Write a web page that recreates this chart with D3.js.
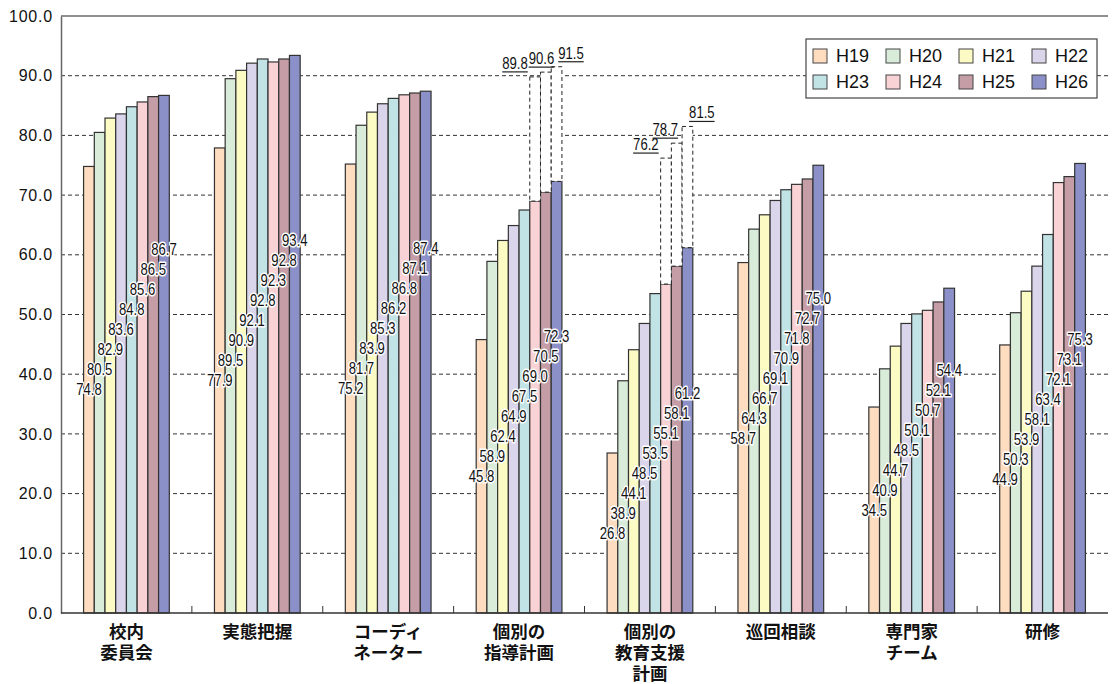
<!DOCTYPE html>
<html lang="ja">
<head>
<meta charset="UTF-8">
<title>bar chart</title>
<script src="https://d3js.org/d3.v7.min.js"></script>
<style>
  body { margin: 0; background: #fff; }
  text { font-family: "Liberation Sans", Arial, sans-serif; }
  .cat { font-family: "Noto Sans CJK JP", sans-serif; font-size: 17.5px; font-weight: 700; }
  .val { font-size: 16px; fill: #111; stroke: #fff; stroke-width: 3px; paint-order: stroke; stroke-linejoin: round; }
</style>
</head>
<body>
<script>
// categories (line breaks as in the picture)
const categories = ["校内\n委員会", "実態把握", "コーディ\nネーター", "個別の\n指導計画",
                    "個別の\n教育支援\n計画", "巡回相談", "専門家\nチーム", "研修"];
const years = ["H19", "H20", "H21", "H22", "H23", "H24", "H25", "H26"];

// values per year, in category order
const H19 = [74.8, 77.9, 75.2, 45.8, 26.8, 58.7, 34.5, 44.9];
const H20 = [80.5, 89.5, 81.7, 58.9, 38.9, 64.3, 40.9, 50.3];
const H21 = [82.9, 90.9, 83.9, 62.4, 44.1, 66.7, 44.7, 53.9];
const H22 = [83.6, 92.1, 85.3, 64.9, 48.5, 69.1, 48.5, 58.1];
const H23 = [84.8, 92.8, 86.2, 67.5, 53.5, 70.9, 50.1, 63.4];
const H24 = [85.6, 92.3, 86.8, 69.0, 55.1, 71.8, 50.7, 72.1];
const H25 = [86.5, 92.8, 87.1, 70.5, 58.1, 72.7, 52.1, 73.1];
const H26 = [86.7, 93.4, 87.4, 72.3, 61.2, 75.0, 54.4, 75.3];
const series = [H19, H20, H21, H22, H23, H24, H25, H26];

// dashed extensions on two categories (H24-H26)
const extraCategories = ["個別の\n指導計画", "個別の\n教育支援\n計画"];
const extraYears = ["H24", "H25", "H26"];
const extraValues = [[89.8, 90.6, 91.5], [76.2, 78.7, 81.5]];

const yTicks = [0, 10, 20, 30, 40, 50, 60, 70, 80, 90, 100];
const colors = ["#fddcbf", "#d9ecd9", "#fdfbc4", "#dad5eb", "#c2e3e6", "#f8d2d5", "#c49da6", "#8c90c8"];

const width = 1115, height = 684;
const plotLeft = 61, plotRight = 1108, plotTop = 16, plotBottom = 613;
const narrow = 0.82; // horizontal squeeze for the numeric labels

const svg = d3.select("body").append("svg")
    .attr("width", width)
    .attr("height", height);

const x0 = d3.scaleBand().domain(categories).range([plotLeft, plotRight]);
const groupW = x0.bandwidth() * 0.655;
const x1 = d3.scaleBand().domain(years).range([0, groupW]);
const gx = c => x0(c) + (x0.bandwidth() - groupW) / 2;
const y = d3.scaleLinear().domain([0, 100]).range([plotBottom, plotTop]);
const color = d3.scaleOrdinal().domain(years).range(colors);

// grid
svg.append("g").selectAll("line")
    .data(yTicks.filter(t => t > 0 && t < 100))
    .join("line")
    .attr("x1", plotLeft).attr("x2", plotRight)
    .attr("y1", d => y(d)).attr("y2", d => y(d))
    .attr("stroke", "#333").attr("stroke-width", 1)
    .attr("stroke-dasharray", "4,3");

svg.append("line")
    .attr("x1", plotLeft).attr("x2", plotRight)
    .attr("y1", y(100)).attr("y2", y(100))
    .attr("stroke", "#222").attr("stroke-width", 1.2);

// bars
const rows = [];
categories.forEach((c, ci) => years.forEach((yr, yi) => rows.push({ c, yr, yi, v: series[yi][ci], first: series[0][ci] })));

svg.append("g").selectAll("rect")
    .data(rows)
    .join("rect")
    .attr("x", d => gx(d.c) + x1(d.yr))
    .attr("y", d => y(d.v))
    .attr("width", x1.bandwidth())
    .attr("height", d => y(0) - y(d.v))
    .attr("fill", d => color(d.yr))
    .attr("stroke", "#333")
    .attr("stroke-width", 1.2);

// dashed extensions
const extras = [];
extraCategories.forEach((c, ci) => extraYears.forEach((yr, k) => {
    const yi = years.indexOf(yr);
    extras.push({ c, yr, k, base: series[yi][categories.indexOf(c)], v: extraValues[ci][k], next: extraValues[ci][k + 1] });
}));

svg.append("g").selectAll("rect")
    .data(extras)
    .join("rect")
    .attr("x", d => gx(d.c) + x1(d.yr))
    .attr("y", d => y(d.v))
    .attr("width", x1.bandwidth())
    .attr("height", d => y(d.base) - y(d.v))
    .attr("fill", "#fff")
    .attr("stroke", "#222")
    .attr("stroke-width", 1)
    .attr("stroke-dasharray", "4,3");

// label x: first to the left of its box, last to the right, middle one
// pushed left when the next box would run through it
const exX = d => {
    const bx = gx(d.c) + x1(d.yr);
    if (d.k === 0) return bx - 2;
    if (d.k === 1) return y(d.next) < y(d.v) - 8 ? bx + x1.bandwidth() - 4 : bx + x1.bandwidth() + 3;
    return bx + 7;
};

const exG = svg.append("g");
const exLabel = exG.selectAll("text")
    .data(extras)
    .join("text")
    .attr("class", "val")
    .style("stroke-width", 0)
    .attr("transform", d => `translate(${exX(d)},${y(d.v) - 8}) scale(${narrow},1)`)
    .attr("text-anchor", d => ["end", "end", "start"][d.k])
    .text(d => d.v.toFixed(1));

exLabel.each(function (d) {
    const b = this.getBBox();
    const x = exX(d);
    exG.append("line")
        .attr("x1", x + b.x * narrow).attr("x2", x + (b.x + b.width) * narrow)
        .attr("y1", y(d.v) - 5).attr("y2", y(d.v) - 5)
        .attr("stroke", "#222").attr("stroke-width", 1.2);
});

// value labels: first one at half the first bar, then stepping up
svg.append("g").selectAll("text")
    .data(rows)
    .join("text")
    .attr("class", "val")
    .attr("transform", d => `translate(${gx(d.c) + x1(d.yr) + x1.bandwidth() / 2},${y(d.first / 2) - d.yi * 20}) scale(${narrow},1)`)
    .attr("dy", "0.36em")
    .attr("text-anchor", "middle")
    .text(d => d.v.toFixed(1));

// y axis
const yAxis = svg.append("g")
    .attr("transform", `translate(${plotLeft},0)`)
    .call(d3.axisLeft(y).tickValues(yTicks).tickFormat(d3.format(".1f")).tickSize(0).tickPadding(8));
yAxis.select(".domain").attr("stroke", "#666").attr("stroke-width", 1.5);
yAxis.selectAll("text")
    .style("font-size", "16px")
    .style("letter-spacing", "0.8px")
    .attr("fill", "#111");

// x axis
svg.append("line")
    .attr("x1", plotLeft).attr("x2", plotRight)
    .attr("y1", plotBottom).attr("y2", plotBottom)
    .attr("stroke", "#333").attr("stroke-width", 1.3);

svg.append("g").selectAll("line")
    .data(categories.slice(1))
    .join("line")
    .attr("x1", d => x0(d)).attr("x2", d => x0(d))
    .attr("y1", plotBottom).attr("y2", plotBottom - 7)
    .attr("stroke", "#333").attr("stroke-width", 1);

const catLines = [];
categories.forEach(c => c.split("\n").forEach((s, i) => catLines.push({ c, s, i })));

svg.append("g").selectAll("text")
    .data(catLines)
    .join("text")
    .attr("class", "cat")
    .attr("text-anchor", "middle")
    .attr("fill", "#111")
    .attr("x", d => x0(d.c) + x0.bandwidth() / 2)
    .attr("y", d => 638 + d.i * 21)
    .text(d => d.s);

// legend
const lg = svg.append("g").attr("transform", "translate(806,39)");
lg.append("rect")
    .attr("width", 291).attr("height", 59)
    .attr("fill", "#fff").attr("stroke", "#444").attr("stroke-width", 1.2);

const item = lg.selectAll(".item")
    .data(years)
    .join("g")
    .attr("class", "item")
    .attr("transform", (d, i) => `translate(${7 + (i % 4) * 73},${10 + Math.floor(i / 4) * 26})`);

item.append("rect")
    .attr("width", 14).attr("height", 14)
    .attr("fill", d => color(d))
    .attr("stroke", "#444").attr("stroke-width", 1);

item.append("text")
    .attr("x", 23).attr("y", 7)
    .attr("dy", "0.36em")
    .style("font-size", "18px")
    .attr("fill", "#111")
    .text(d => d);
</script>
</body>
</html>
